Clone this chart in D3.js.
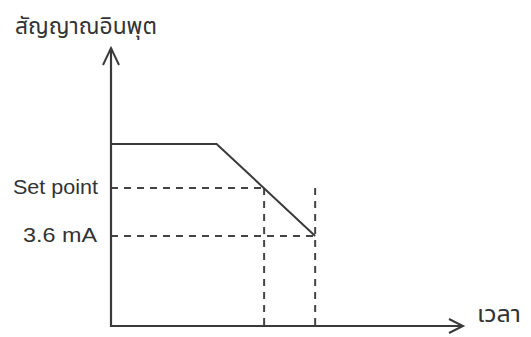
<!DOCTYPE html>
<html>
<head>
<meta charset="utf-8">
<script src="https://cdn.jsdelivr.net/npm/d3@7"></script>
<style>
  html, body { margin: 0; padding: 0; background: #fff; }
  svg { display: block; }
</style>
</head>
<body>
<script>
// ---- data ----
const yAxisTitle = "สัญญาณอินพุต";
const xAxisTitle = "เวลา";
const signalTime = [0, 30, 58];          // time (arbitrary units, 0..100)
const signalLevel = [65.5, 65.5, 32.4];  // input signal (arbitrary units, 0..100)
const thresholdLabels = ["Set point", "3.6 mA"];
const thresholdLevels = [49.6, 32.4];
const thresholdTimes = [43.5, 58];
const verticalTop = [49.6, 49.6];       // top of each vertical dashed guide

// ---- layout ----
const W = 531, H = 337;
const x = d3.scaleLinear().domain([0, 100]).range([111, 463]);
const y = d3.scaleLinear().domain([0, 100]).range([326, 48]);

const svg = d3.select("body").append("svg").attr("width", W).attr("height", H);
const ink = "#3a3a3a";
const thaiFont = "'Noto Sans Thai', 'Noto Sans Thai UI', Loma, Garuda, 'Noto Sans', 'DejaVu Sans', sans-serif";
const latinFont = "'Liberation Sans', Arial, Helvetica, sans-serif";

// dashed guides (horizontal)
svg.selectAll("line.hguide").data(thresholdLevels).join("line")
  .attr("class", "hguide")
  .attr("x1", x(0)).attr("x2", (d, i) => x(thresholdTimes[i]))
  .attr("y1", d => y(d)).attr("y2", d => y(d))
  .attr("stroke", "#444").attr("stroke-width", 2).attr("stroke-dasharray", "7,6");

// dashed guides (vertical)
svg.selectAll("line.vguide").data(thresholdTimes).join("line")
  .attr("class", "vguide")
  .attr("x1", d => x(d)).attr("x2", d => x(d))
  .attr("y1", (d, i) => y(verticalTop[i])).attr("y2", y(0))
  .attr("stroke", "#444").attr("stroke-width", 2).attr("stroke-dasharray", "7,6");

// signal line
const pts = signalTime.map((t, i) => [t, signalLevel[i]]);
svg.append("path")
  .attr("d", d3.line().x(d => x(d[0])).y(d => y(d[1]))(pts))
  .attr("fill", "none").attr("stroke", ink).attr("stroke-width", 2);

// axes
svg.append("line").attr("x1", x(0)).attr("x2", x(0)).attr("y1", y(0) + 1).attr("y2", y(100))
  .attr("stroke", ink).attr("stroke-width", 2.2);
svg.append("line").attr("x1", x(0) - 1).attr("x2", x(100)).attr("y1", y(0)).attr("y2", y(0))
  .attr("stroke", ink).attr("stroke-width", 2.2);

// arrow heads (open chevrons)
const yt = [x(0), y(100)];
svg.append("path")
  .attr("d", `M${yt[0] - 8},${yt[1] + 17} L${yt[0]},${yt[1]} L${yt[0] + 8},${yt[1] + 17}`)
  .attr("fill", "none").attr("stroke", ink).attr("stroke-width", 2);
const xt = [x(100), y(0)];
svg.append("path")
  .attr("d", `M${xt[0] - 14},${xt[1] - 7} L${xt[0]},${xt[1]} L${xt[0] - 14},${xt[1] + 7}`)
  .attr("fill", "none").attr("stroke", ink).attr("stroke-width", 2);

// threshold labels
svg.selectAll("text.tl").data(thresholdLabels).join("text")
  .attr("class", "tl")
  .attr("x", (d, i) => i === 0 ? 13 : 23)
  .attr("y", (d, i) => y(thresholdLevels[i]) + 6)
  .attr("textLength", (d, i) => i === 0 ? 85 : 74)
  .attr("lengthAdjust", "spacingAndGlyphs")
  .attr("font-family", latinFont).attr("font-size", 21)
  .attr("fill", "#333")
  .text(d => d);

// axis titles
svg.append("text").attr("x", 15).attr("y", 34)
  .attr("textLength", 142).attr("lengthAdjust", "spacingAndGlyphs")
  .attr("font-family", thaiFont).attr("font-size", 23).attr("fill", "#333")
  .text(yAxisTitle);
svg.append("text").attr("x", 477).attr("y", 322)
  .attr("textLength", 44).attr("lengthAdjust", "spacingAndGlyphs")
  .attr("font-family", thaiFont).attr("font-size", 23).attr("fill", "#333")
  .text(xAxisTitle);
</script>
</body>
</html>
